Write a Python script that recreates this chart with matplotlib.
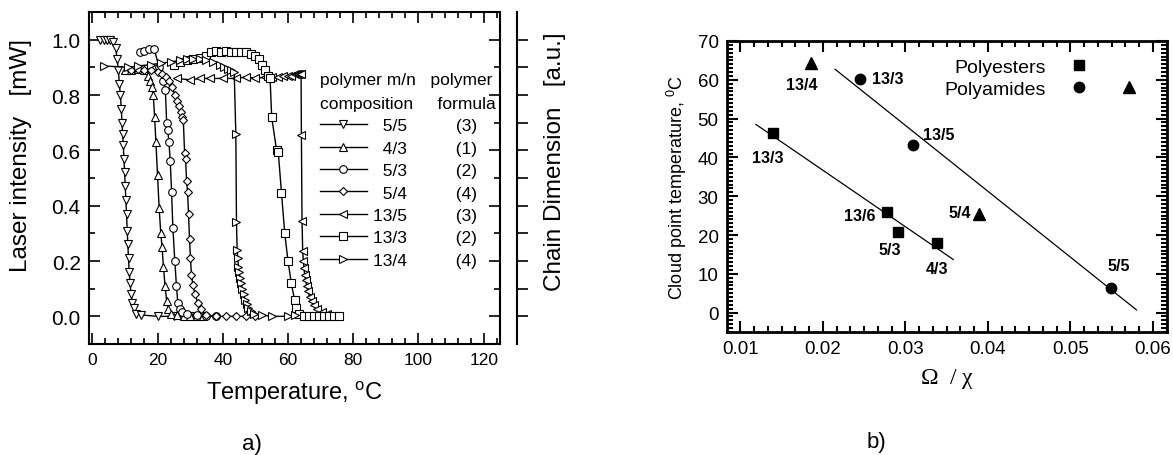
import matplotlib
matplotlib.use('Agg')
import matplotlib.pyplot as plt
import numpy as np
from matplotlib.ticker import MultipleLocator
from matplotlib.lines import Line2D
from matplotlib.legend_handler import HandlerTuple

plt.rcParams['font.family'] = ['Liberation Sans', 'DejaVu Sans']
plt.rcParams['mathtext.default'] = 'regular'

# ---- panel a: laser intensity vs temperature ----
comps = ['5/5', '4/3', '5/3', '5/4', '13/5', '13/3', '13/4']
formulas = ['(3)', '(1)', '(2)', '(4)', '(3)', '(2)', '(4)']

t_55 = [2.5, 3.5, 4.5, 5.5, 6.5, 7.2, 7.6, 8.0, 8.3, 8.6, 8.9, 9.1, 9.3, 9.5, 9.7, 9.9,
        10.1, 10.3, 10.5, 10.7, 10.9, 11.1, 11.3, 11.6, 11.9, 12.3, 12.8, 13.5, 15, 20, 25, 30]
i_55 = [1.0, 1.0, 1.0, 1.0, 0.99, 0.97, 0.93, 0.89, 0.84, 0.80, 0.75, 0.70, 0.66, 0.62, 0.57, 0.52,
        0.47, 0.42, 0.37, 0.31, 0.26, 0.21, 0.16, 0.12, 0.08, 0.05, 0.03, 0.01, 0.005, 0.0, 0.0, 0.0]

t_43 = [10, 12, 14, 16, 17.0, 17.6, 18.2, 18.7, 19.1, 19.5, 20.0, 20.5, 21.0, 21.4, 21.8,
        22.3, 22.8, 23.3, 24, 26, 28, 30, 32, 34]
i_43 = [0.89, 0.89, 0.895, 0.89, 0.87, 0.85, 0.83, 0.80, 0.72, 0.63, 0.51, 0.39, 0.30, 0.25, 0.18,
        0.11, 0.055, 0.025, 0.01, 0.005, 0.0, 0.0, 0.0, 0.0]

t_53 = [14.5, 16, 17.5, 19, 20.5, 21.8, 22.4, 22.8, 23.1, 23.5, 23.9, 24.3, 24.7, 25.3, 25.8,
        26.2, 26.8, 27.5, 29, 32, 35, 38]
i_53 = [0.955, 0.96, 0.965, 0.965, 0.90, 0.85, 0.82, 0.70, 0.675, 0.63, 0.56, 0.45, 0.32, 0.20, 0.11,
        0.05, 0.025, 0.015, 0.01, 0.005, 0.0, 0.0]

t_54 = [12, 14, 16, 18, 20, 21.5, 22.5, 23.5, 24.5, 25.3, 26.0, 26.6, 27.1, 27.5, 27.9, 28.3,
        28.6, 28.9, 29.2, 29.5, 29.8, 30.1, 30.4, 30.8, 31.5, 32.3, 33.2, 35, 38, 41, 44, 47, 50]
i_54 = [0.89, 0.895, 0.89, 0.89, 0.885, 0.875, 0.865, 0.85, 0.83, 0.80, 0.78, 0.76, 0.74, 0.72, 0.71, 0.59,
        0.57, 0.49, 0.45, 0.37, 0.28, 0.21, 0.15, 0.115, 0.08, 0.05, 0.025, 0.005, 0.0, 0.0, 0.0, 0.0, 0.0]

t_135 = [26, 30, 33, 36, 40, 44, 47, 50, 53, 55, 57, 58.5, 60, 61, 62, 62.7, 63.2, 63.6, 64.0,
         64.1, 64.3, 64.5, 64.7, 64.9, 65.1, 65.4, 65.7, 66.1, 66.6, 67.2, 68, 69, 70.5, 72, 74]
i_135 = [0.86, 0.855, 0.86, 0.86, 0.86, 0.86, 0.865, 0.86, 0.865, 0.865, 0.865, 0.87, 0.87, 0.87, 0.875,
         0.875, 0.875, 0.875, 0.875, 0.657, 0.343, 0.235, 0.20, 0.175, 0.15, 0.13, 0.11, 0.09, 0.07,
         0.055, 0.04, 0.025, 0.015, 0.008, 0.003]

t_133 = [25, 27, 29, 31, 33, 35, 36.5, 38, 39.5, 41, 42.5, 44, 45.5, 47, 48.5, 50, 51, 52, 53, 54,
         54.5, 55, 56.5, 57, 58, 59, 60, 61, 62, 62.5, 63.5, 65, 66.5, 68, 69.5, 71, 72.5, 74, 75.5]
i_133 = [0.91, 0.92, 0.925, 0.93, 0.935, 0.94, 0.955, 0.96, 0.955, 0.96, 0.955, 0.955, 0.955, 0.955,
         0.95, 0.94, 0.93, 0.91, 0.89, 0.87, 0.86, 0.72, 0.60, 0.595, 0.446, 0.30, 0.20, 0.12, 0.06,
         0.03, 0.01, 0.002, 0, 0, 0, 0, 0, 0, 0]

t_134 = [3.7, 11, 14, 18, 21, 24, 27, 29, 31, 33, 35, 37, 39, 40.5, 41.5, 42.5, 43.5, 44.0, 44.2,
         44.4, 44.6, 44.8, 45.0, 45.3, 45.6, 46.0, 46.4, 46.8, 47.3, 47.8, 48.5, 49.5, 52, 55, 60, 62]
i_134 = [0.905, 0.90, 0.905, 0.91, 0.915, 0.92, 0.925, 0.93, 0.93, 0.93, 0.925, 0.92, 0.91, 0.90,
         0.895, 0.89, 0.885, 0.66, 0.34, 0.24, 0.21, 0.18, 0.16, 0.14, 0.12, 0.10, 0.08, 0.06, 0.045,
         0.03, 0.02, 0.01, 0.005, 0.0, 0.0, 0.005]

temps = [t_55, t_43, t_53, t_54, t_135, t_133, t_134]
intens = [i_55, i_43, i_53, i_54, i_135, i_133, i_134]
mk = ['v', '^', 'o', 'D', '<', 's', '>']

# ---- panel b: cloud point vs omega/chi ----
est_x = [0.01395, 0.02774, 0.02914, 0.03386]
est_y = [46.2, 26.0, 20.9, 18.0]
est_lab = ['13/3', '13/6', '5/3', '4/3']
ami_c_x = [0.02451, 0.03088, 0.05486]
ami_c_y = [60.1, 43.1, 6.4]
ami_c_lab = ['13/3', '13/5', '5/5']
ami_t_x = [0.01859, 0.0389]
ami_t_y = [64.4, 25.5]
ami_t_lab = ['13/4', '5/4']
fit_est_x = [0.0119, 0.0358]
fit_est_y = [48.5, 13.7]
fit_ami_x = [0.0215, 0.0580]
fit_ami_y = [62.7, 0.7]

fig = plt.figure(figsize=(11.73, 4.56), dpi=100)

ax = fig.add_axes([0.0759, 0.2434, 0.3504, 0.728])
for t, v, m, c, f in zip(temps, intens, mk, comps, formulas):
    lab = ' ' * (2 * (4 - len(c))) + c + ' ' * 10 + f
    ax.plot(t, v, '-', color='k', lw=1, marker=m, ms=5.5 if m != 'D' else 4.5,
            mfc='white', mec='k', mew=0.8, label=lab)
ax.set_xlim(-1, 125)
ax.set_ylim(-0.1, 1.1)
ax.set_xticks(np.arange(0, 121, 20))
ax.set_yticks(np.arange(0, 1.01, 0.2))
ax.set_yticklabels(['0.0', '0.2', '0.4', '0.6', '0.8', '1.0'])
ax.xaxis.set_minor_locator(MultipleLocator(4))
ax.yaxis.set_minor_locator(MultipleLocator(0.1))
ax.set_xlabel('Temperature, $^{o}$C', fontsize=17, labelpad=8)
ax.set_ylabel('Laser intensity   [mW]', fontsize=17.5)
ax.yaxis.set_label_coords(-0.139, 0.57)
for s in ax.spines.values():
    s.set_linewidth(1.5)

ax2 = ax.twinx()
ax2.set_ylim(-0.1, 1.1)
ax2.set_yticks(np.arange(0, 1.01, 0.1))
ax2.set_yticklabels([])
ax2.spines['right'].set_position(('axes', 1.041))
ax2.spines['right'].set_linewidth(1.5)
for s in ['left', 'top', 'bottom']:
    ax2.spines[s].set_visible(False)
ax2.tick_params(axis='y', direction='out', length=8, width=1.2)
ax2.set_ylabel('Chain Dimension   [a.u.]', fontsize=17.5)
ax2.yaxis.set_label_coords(1.106, 0.553)

ax.tick_params(which='both', direction='in', top=True, right=True, width=1.2)
ax.tick_params(which='major', length=8)
ax.tick_params(which='minor', length=4)
ax.tick_params(axis='x', labelsize=12.5, pad=6)
ax.tick_params(axis='y', labelsize=15, pad=6)

leg = ax.legend(loc='upper left', bbox_to_anchor=(0.562, 0.82), frameon=False, fontsize=12.5,
                title='polymer m/n' + ' ' * 3 + 'polymer\ncomposition' + ' ' * 5 + 'formula',
                title_fontsize=12.5, alignment='left', handlelength=2.7, handletextpad=0.35,
                labelspacing=0.42, borderpad=0, borderaxespad=0)
leg.get_title().set_linespacing(1.75)

# panel b
bx = fig.add_axes([0.6198, 0.2697, 0.3751, 0.6382])
bx.plot(fit_est_x, fit_est_y, '-', color='k', lw=0.9)
bx.plot(fit_ami_x, fit_ami_y, '-', color='k', lw=0.9)
bx.plot(est_x, est_y, 's', color='k', ms=7, ls='none')
bx.plot(ami_c_x, ami_c_y, 'o', color='k', ms=7.5, ls='none')
bx.plot(ami_t_x, ami_t_y, '^', color='k', ms=8, ls='none')

lab_kw = dict(textcoords='offset pixels', fontsize=11.5, fontweight='bold', va='center')
est_off = [(-5, -24), (-27, -4), (-8, -18), (0, -26)]
for x, y, l, o in zip(est_x, est_y, est_lab, est_off):
    bx.annotate(l, (x, y), xytext=o, ha='center', **lab_kw)
ami_c_off = [(12, 1), (10, 11), (8, 22)]
ami_c_ha = ['left', 'left', 'center']
for x, y, l, o, h in zip(ami_c_x, ami_c_y, ami_c_lab, ami_c_off, ami_c_ha):
    bx.annotate(l, (x, y), xytext=o, ha=h, **lab_kw)
ami_t_off = [(-9, -22), (-8, 1)]
ami_t_ha = ['center', 'right']
for x, y, l, o, h in zip(ami_t_x, ami_t_y, ami_t_lab, ami_t_off, ami_t_ha):
    bx.annotate(l, (x, y), xytext=o, ha=h, **lab_kw)

bx.set_xlim(0.0084, 0.0617)
bx.set_ylim(-5, 70)
bx.set_xticks([0.01, 0.02, 0.03, 0.04, 0.05, 0.06])
bx.set_yticks(np.arange(0, 71, 10))
bx.xaxis.set_minor_locator(MultipleLocator(0.01 / 6))
bx.yaxis.set_minor_locator(MultipleLocator(1))
bx.tick_params(which='both', direction='in', top=True, right=True, width=1.5, labelsize=13.5)
bx.tick_params(which='major', length=8, pad=6)
bx.tick_params(which='minor', length=4)
for s in bx.spines.values():
    s.set_linewidth(2)
bx.set_ylabel('Cloud point temperature, $^{0}$C', fontsize=13, labelpad=6)
bx.set_xlabel(r'$\Omega$  / $\chi$', fontsize=17, labelpad=6, family='Liberation Serif')

sq = Line2D([], [], marker='s', color='k', ls='none', ms=7)
blank = Line2D([], [], ls='none')
ci = Line2D([], [], marker='o', color='k', ls='none', ms=7.5)
tr = Line2D([], [], marker='^', color='k', ls='none', ms=8)
bx.legend([(sq, blank), (ci, tr)], ['Polyesters', 'Polyamides'],
          handler_map={tuple: HandlerTuple(ndivide=2, pad=0)}, markerfirst=False,
          loc='upper left', bbox_to_anchor=(0.495, 0.94), frameon=False, fontsize=14,
          handlelength=5.15, handletextpad=0.4, labelspacing=0.2, borderpad=0, borderaxespad=0)

fig.text(252 / 1173, 1 - 445 / 456, 'a)', fontsize=16, ha='center', va='center')
fig.text(876 / 1173, 1 - 443 / 456, 'b)', fontsize=16, ha='center', va='center')

fig.savefig('out.png', dpi=100)
